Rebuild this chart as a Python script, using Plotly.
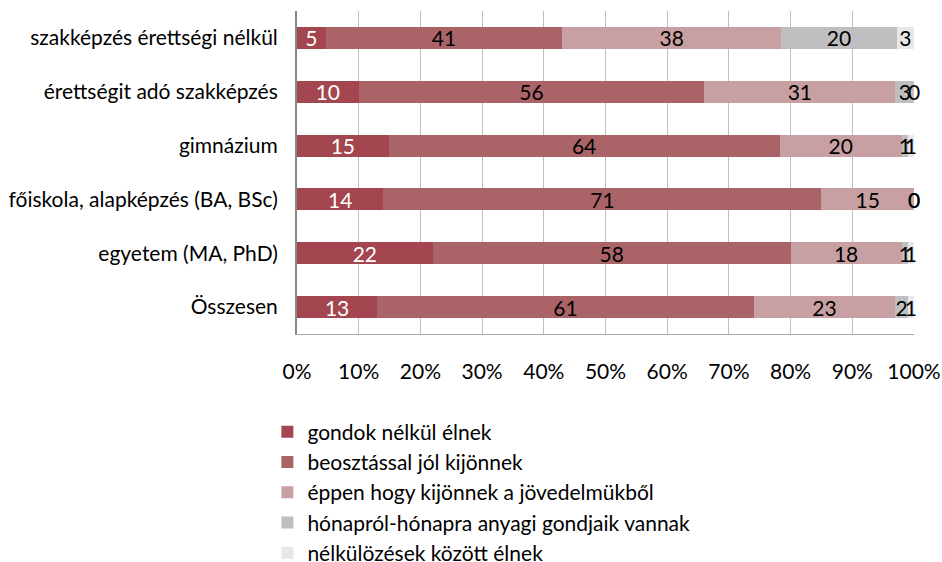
import plotly.graph_objects as go

categories = [
    "szakképzés érettségi nélkül",
    "érettségit adó szakképzés",
    "gimnázium",
    "főiskola, alapképzés (BA, BSc)",
    "egyetem (MA, PhD)",
    "Összesen",
]
series_names = [
    "gondok nélkül élnek",
    "beosztással jól kijönnek",
    "éppen hogy kijönnek a jövedelmükből",
    "hónapról-hónapra anyagi gondjaik vannak",
    "nélkülözések között élnek",
]
gondok_nelkul = [5, 10, 15, 14, 22, 13]
beosztassal = [41, 56, 64, 71, 58, 61]
eppen_hogy = [38, 31, 20, 15, 18, 23]
honaprol = [20, 3, 1, 0, 1, 2]
nelkulozesek = [3, 0, 1, 0, 1, 1]

series_values = [gondok_nelkul, beosztassal, eppen_hogy, honaprol, nelkulozesek]
colors = ["#A3464F", "#AA6468", "#C8A0A3", "#BFBFC1", "#E7E7E9"]
text_colors = ["white", "black", "black", "black", "black"]

FONT = "Lato"
FS = 21

fig = go.Figure()
for i, (name, vals) in enumerate(zip(series_names, series_values)):
    fig.add_trace(go.Bar(
        y=categories, x=vals, name=name, orientation="h",
        marker=dict(color=colors[i], line=dict(width=0)),
        text=[str(v) for v in vals], texttemplate="%{text}",
        textposition="inside", insidetextanchor="middle", textangle=0,
        insidetextfont=dict(color=text_colors[i], size=FS, family=FONT),
        legendgroup=f"g{i}", cliponaxis=False,
    ))

# labels for zero-width segments (plotly does not draw text for empty bars)
for j, cat in enumerate(categories):
    total = sum(s[j] for s in series_values)
    cum = 0
    for i, s in enumerate(series_values):
        if s[j] == 0:
            fig.add_annotation(
                x=cum / total * 100, y=cat, xref="x", yref="y",
                text=str(s[j]), showarrow=False,
                font=dict(color=text_colors[i], size=FS, family=FONT),
            )
        cum += s[j]

fig.update_layout(
    width=942, height=562,
    barmode="stack", barnorm="percent", bargap=0.59,
    plot_bgcolor="white", paper_bgcolor="white",
    margin=dict(l=297, r=28, t=11, b=228, autoexpand=False),
    font=dict(family=FONT, size=FS, color="black"),
    uniformtext=dict(minsize=FS, mode="show"),
    showlegend=True,
    legend=dict(
        x=-0.048, xanchor="left", y=-0.240, yanchor="top",
        traceorder="normal", tracegroupgap=7.5,
        font=dict(size=FS, family=FONT), bgcolor="rgba(0,0,0,0)",
    ),
    xaxis=dict(
        range=[0, 100], dtick=10, ticksuffix="%", automargin=False,
        showgrid=True, gridcolor="#BFBFBF", gridwidth=1,
        showline=True, linecolor="#A6A6A6", linewidth=1,
        zeroline=False, ticks="", ticklabelstandoff=19,
        tickfont=dict(size=FS, family=FONT),
    ),
    yaxis=dict(
        autorange="reversed", automargin=False,
        showline=True, linecolor="#868686", linewidth=2,
        ticks="", ticklabelstandoff=13, tickfont=dict(size=FS, family=FONT),
    ),
)

fig.write_html("out.html", config={"displayModeBar": False},
               post_script="document.body.style.margin='0';")
